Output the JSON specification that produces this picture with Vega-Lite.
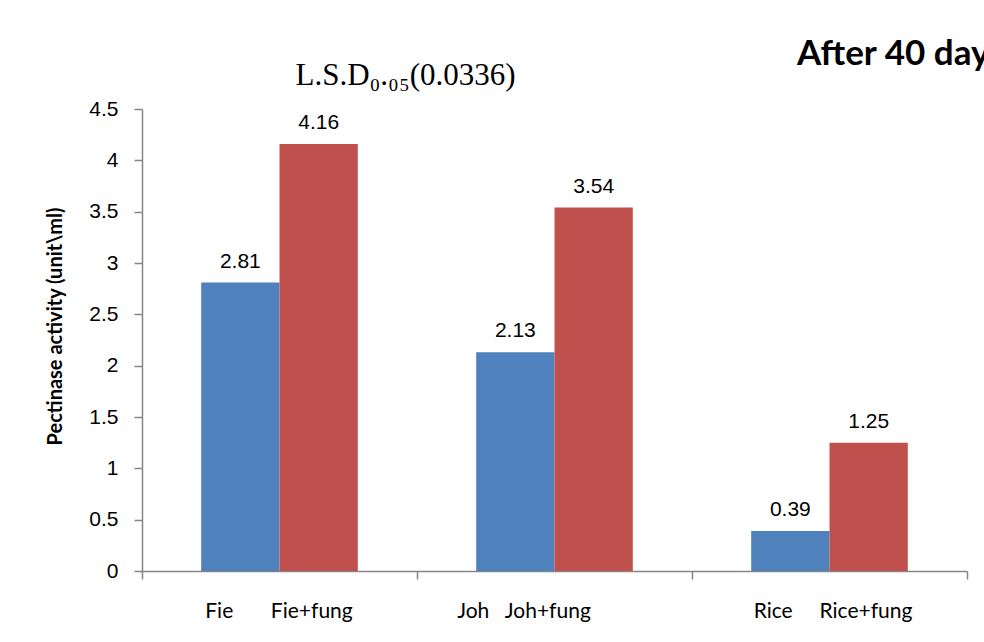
{
  "$schema": "https://vega.github.io/schema/vega-lite/v6.json",
  "autosize": {"type": "none"},
  "width": 825,
  "height": 462,
  "padding": {"left": 142, "top": 109, "right": 17, "bottom": 71},
  "background": "white",
  "title": {
    "text": "After 40 day",
    "anchor": "start",
    "frame": "group",
    "dx": 655,
    "offset": 0,
    "dy": 41,
    "baseline": "alphabetic",
    "font": "Lato",
    "fontSize": 35,
    "fontWeight": "bold",
    "color": "black"
  },
  "data": {
    "values": [
      {"group": "Fie\u00a0\u00a0\u00a0\u00a0\u00a0\u00a0\u00a0Fie+fung", "type": "plain", "value": 2.81},
      {"group": "Fie\u00a0\u00a0\u00a0\u00a0\u00a0\u00a0\u00a0Fie+fung", "type": "fung", "value": 4.16},
      {"group": "Joh\u00a0\u00a0\u00a0Joh+fung", "type": "plain", "value": 2.13},
      {"group": "Joh\u00a0\u00a0\u00a0Joh+fung", "type": "fung", "value": 3.54},
      {"group": "Rice\u00a0\u00a0\u00a0\u00a0\u00a0Rice+fung", "type": "plain", "value": 0.39},
      {"group": "Rice\u00a0\u00a0\u00a0\u00a0\u00a0Rice+fung", "type": "fung", "value": 1.25}
    ]
  },
  "encoding": {
    "x": {
      "field": "group",
      "type": "nominal",
      "sort": null,
      "scale": {"paddingInner": 0, "paddingOuter": 0},
      "axis": {
        "tickBand": "extent",
        "tickSize": 8,
        "labelAngle": 0,
        "labelPadding": 38,
        "labelBaseline": "alphabetic",
        "labelOffset": {
          "condition": [
            {"test": "datum.index == 0.5", "value": -31},
            {"test": "datum.index == 1", "value": 3}
          ],
          "value": -1
        },
        "labelFont": "Lato",
        "labelFontSize": 21,
        "labelColor": "black",
        "domainColor": "#868686",
        "tickColor": "#868686",
        "domainWidth": 1.5,
        "tickWidth": 1.5,
        "title": "L.S.D₀.₀₅(0.0336)",
        "titleX": 153,
        "titleY": -487,
        "titleAlign": "left",
        "titleBaseline": "alphabetic",
        "titleFont": "Liberation Serif",
        "titleFontSize": 31,
        "titleFontWeight": "normal",
        "titleColor": "black"
      }
    },
    "xOffset": {
      "field": "type",
      "type": "nominal",
      "sort": ["plain", "fung"],
      "scale": {"paddingInner": 0, "paddingOuter": 0.756}
    },
    "y": {
      "field": "value",
      "type": "quantitative",
      "scale": {"domain": [0, 4.5], "nice": false},
      "axis": {
        "values": [0, 0.5, 1, 1.5, 2, 2.5, 3, 3.5, 4, 4.5],
        "format": "~g",
        "grid": false,
        "tickSize": 8,
        "labelPadding": 16,
        "labelFont": "Liberation Sans",
        "labelFontSize": 21,
        "labelColor": "black",
        "domainColor": "#868686",
        "tickColor": "#868686",
        "domainWidth": 1.5,
        "tickWidth": 1.5,
        "title": "Pectinase activity (unit\\ml)",
        "titleX": -87,
        "titleY": 217,
        "titleAngle": -90,
        "titleAlign": "center",
        "titleBaseline": "middle",
        "titleFont": "Lato",
        "titleFontSize": 20,
        "titleFontWeight": "bold",
        "titleColor": "black"
      }
    }
  },
  "layer": [
    {
      "mark": {"type": "bar"},
      "encoding": {
        "color": {
          "field": "type",
          "type": "nominal",
          "scale": {"domain": ["plain", "fung"], "range": ["#4F81BD", "#C0504D"]},
          "legend": null
        }
      }
    },
    {
      "mark": {
        "type": "text",
        "baseline": "alphabetic",
        "dy": -15,
        "font": "Liberation Sans",
        "fontSize": 21,
        "color": "black"
      },
      "encoding": {
        "text": {"field": "value", "type": "quantitative", "format": ".2f"}
      }
    }
  ],
  "config": {
    "view": {"stroke": null}
  }
}
